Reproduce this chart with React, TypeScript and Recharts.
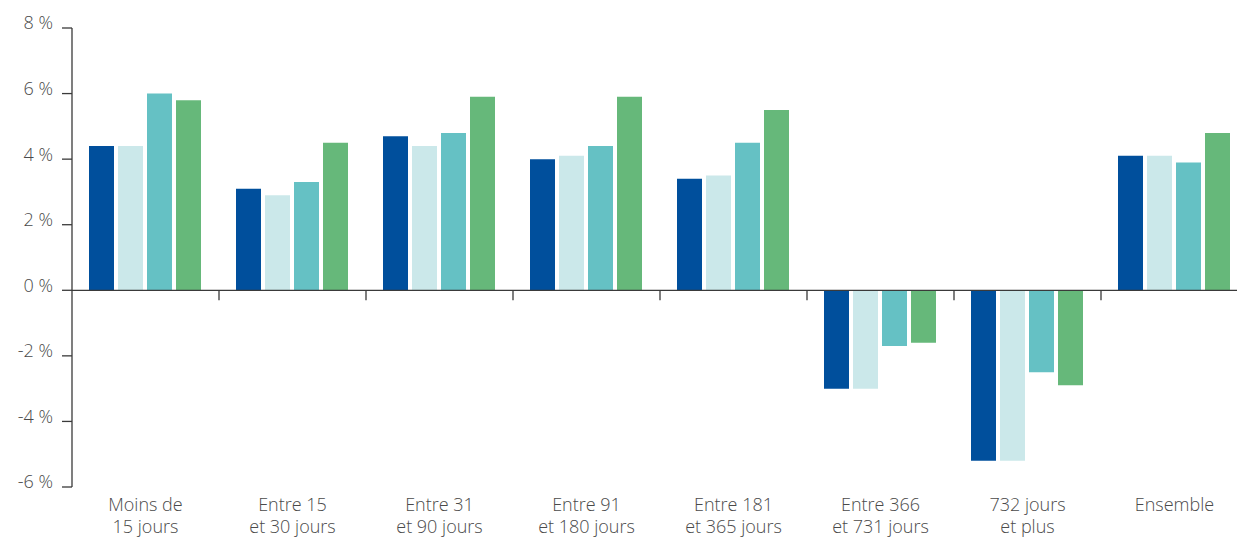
import { Bar, BarChart, ReferenceLine, XAxis, YAxis } from "recharts";

// Duration brackets (two-line labels split on "\n")
const categories = [
  "Moins de\n15 jours",
  "Entre 15\net 30 jours",
  "Entre 31\net 90 jours",
  "Entre 91\net 180 jours",
  "Entre 181\net 365 jours",
  "Entre 366\net 731 jours",
  "732 jours\net plus",
  "Ensemble",
];

// Change in %, one array per series
const serie1 = [4.4, 3.1, 4.7, 4.0, 3.4, -3.0, -5.2, 4.1];
const serie2 = [4.4, 2.9, 4.4, 4.1, 3.5, -3.0, -5.2, 4.1];
const serie3 = [6.0, 3.3, 4.8, 4.4, 4.5, -1.7, -2.5, 3.9];
const serie4 = [5.8, 4.5, 5.9, 5.9, 5.5, -1.6, -2.9, 4.8];

const yTicks = [-6, -4, -2, 0, 2, 4, 6, 8];

const data = categories.map((name, i) => ({
  name,
  s1: serie1[i],
  s2: serie2[i],
  s3: serie3[i],
  s4: serie4[i],
}));

const FONT = "'Open Sans', 'DejaVu Sans', sans-serif";
const TEXT = "#4a4a4a";
const AXIS = "#3a3a3a";

function CategoryTick({ x, y, payload }: any) {
  const lines = String(payload.value).split("\n");
  return (
    <text
      x={x}
      y={y}
      textAnchor="middle"
      fill={TEXT}
      fontSize={18}
      fontWeight={300}
      fontFamily={FONT}
    >
      {lines.map((line, i) => (
        <tspan key={i} x={x} dy={i === 0 ? 24 : 22}>
          {line}
        </tspan>
      ))}
    </text>
  );
}

function ValueTick({ x, y, payload }: any) {
  return (
    <text
      x={x}
      y={y - 5}
      dy="0.355em"
      textAnchor="end"
      fill={TEXT}
      fontSize={18}
      fontWeight={300}
      fontFamily={FONT}
    >
      {`${payload.value} %`}
    </text>
  );
}

// zero line with small separators between categories
function ZeroLine(props: any) {
  const { x1, x2, y1 } = props;
  const step = (x2 - x1) / categories.length;
  return (
    <g>
      <line x1={x1} x2={x2} y1={y1} y2={y1} stroke={AXIS} strokeWidth={1.3} />
      {categories.slice(1).map((_, i) => {
        const x = x1 + step * (i + 1);
        return (
          <line
            key={i}
            x1={x}
            x2={x}
            y1={y1}
            y2={y1 + 10}
            stroke={AXIS}
            strokeWidth={1.3}
          />
        );
      })}
    </g>
  );
}

export default function App() {
  return (
    <div
      style={{
        position: "fixed",
        left: 0,
        top: 0,
        width: 1237,
        height: 540,
        overflow: "hidden",
        background: "#ffffff",
      }}
    >
      <BarChart
        width={1248}
        height={540}
        data={data}
        margin={{ top: 28, right: 0, left: 0, bottom: 0 }}
        barCategoryGap={17}
        barGap={4}
      >
        <XAxis
          dataKey="name"
          axisLine={false}
          tickLine={false}
          tickSize={0}
          tickMargin={0}
          height={53}
          interval={0}
          tick={<CategoryTick />}
        />
        <YAxis
          domain={[-6, 8]}
          ticks={yTicks}
          width={72}
          tickSize={10}
          tickMargin={9}
          interval={0}
          axisLine={{ stroke: AXIS, strokeWidth: 1.3 }}
          tickLine={{ stroke: AXIS, strokeWidth: 1.3 }}
          tick={<ValueTick />}
        />
        <Bar dataKey="s1" fill="#004f9c" isAnimationActive={false} />
        <Bar dataKey="s2" fill="#cbe8ea" isAnimationActive={false} />
        <Bar dataKey="s3" fill="#65c1c4" isAnimationActive={false} />
        <Bar dataKey="s4" fill="#66b87a" isAnimationActive={false} />
        <ReferenceLine y={0} shape={ZeroLine} />
      </BarChart>
    </div>
  );
}
